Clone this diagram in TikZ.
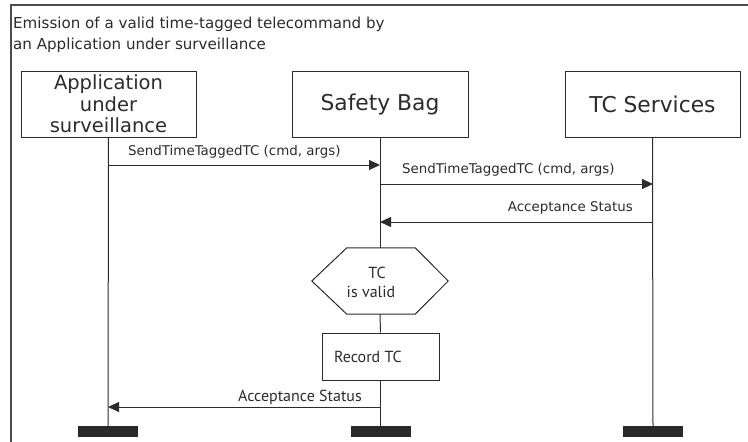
\documentclass[tikz,border=0pt]{standalone}
\usepackage{fontspec}
\setmainfont{DejaVu Sans}
\newfontfamily\myr{PT Sans}
\usetikzlibrary{arrows.meta}
\definecolor{ink}{HTML}{2B2B2B}
\begin{document}
\begin{tikzpicture}[x=1pt,y=-1pt,
  every node/.style={text=ink},
  frame/.style={draw=ink!85, line width=1.4pt},
  box/.style={draw=ink, line width=1pt, minimum width=175pt, minimum height=66pt, inner sep=0pt, align=center, font=\fontsize{19.5}{21.5}\selectfont},
  bigbox/.style={box, font=\fontsize{21.8}{24}\selectfont},
  life/.style={draw=ink, line width=1pt},
  msg/.style={draw=ink, line width=1pt, -{Triangle[length=11pt,width=10pt]}},
  lbl/.style={inner sep=0pt, font=\fontsize{13.4}{15}\selectfont},
  lblb/.style={inner sep=0pt, font=\myr\fontsize{16}{18}\selectfont},
  bar/.style={fill=ink!95!black, draw=none, minimum width=60pt, minimum height=11pt, inner sep=0pt},
  actbox/.style={draw=ink, line width=1pt, minimum width=117pt, minimum height=47pt, inner sep=0pt}
]
\useasboundingbox (0,0) rectangle (748,442);
% frame
\coordinate (fr1) at (748,5);
\coordinate (fr2) at (11,5);
\coordinate (fr3) at (11,442);
\draw[frame] (fr1) -- (fr2) -- (fr3);
\node[anchor=north west, align=left, inner sep=0pt, font=\fontsize{15.1}{21}\selectfont] (title) at (13,16.5)
  {Emission of a valid time-tagged telecommand by\\an Application under surveillance};
% heads
\node[box] (app) at (108.5,104) {Application\\under\\surveillance};
\node[bigbox, minimum width=176pt] (sb) at (380,104) {Safety Bag};
\node[bigbox] (tcs) at (652.5,104) {TC Services};
% bars
\node[bar] (barA) at (108,431.5) {};
\node[bar] (barS) at (380.5,431.5) {};
\node[bar] (barT) at (653,431.5) {};
% hexagon
\node[inner sep=0pt, minimum width=136pt, minimum height=66pt] (hex) at (380,281) {};
\node[lblb, anchor=base] (hext1) at (377,278) {TC};
\node[lblb, anchor=base] (hext2) at (371,297) {is valid};
\draw[life] (hex.west) -- ([xshift=35pt]hex.north west) -- ([xshift=-33pt]hex.north east) -- (hex.east) -- ([xshift=-33pt]hex.south east) -- ([xshift=35pt]hex.south west) -- cycle;
% record box
\node[actbox] (rec) at (380.5,356.5) {};
\node[lblb, anchor=base] (rect) at (368,362) {Record TC};
% lifelines
\draw[life] (app.south) -- (barA.north);
\draw[life] (tcs.south) -- (barT.north);
\draw[life] (sb.south) -- (hex.north);
\draw[life] (hex.south) -- (rec.north);
\draw[life] (rec.south) -- (barS.north);
% messages
\coordinate (m1a) at (108,165); \coordinate (m1b) at (380,165);
\coordinate (m2a) at (380,184); \coordinate (m2b) at (653,184);
\coordinate (m3a) at (653,222); \coordinate (m3b) at (380,222);
\coordinate (m4a) at (380,407); \coordinate (m4b) at (108,407);
\draw[msg] (m1a) -- (m1b);
\draw[msg] (m2a) -- (m2b);
\draw[msg] (m3a) -- (m3b);
\draw[msg] (m4a) -- (m4b);
\node[lbl, anchor=base west] (l1) at (128,155) {SendTimeTaggedTC (cmd, args)};
\node[lbl, anchor=base west] (l2) at (402,173) {SendTimeTaggedTC (cmd, args)};
\node[lbl, anchor=base east] (l3) at (633,211) {Acceptance Status};
\node[lblb, anchor=base east] (l4) at (362,401) {Acceptance Status};
\end{tikzpicture}
\end{document}
